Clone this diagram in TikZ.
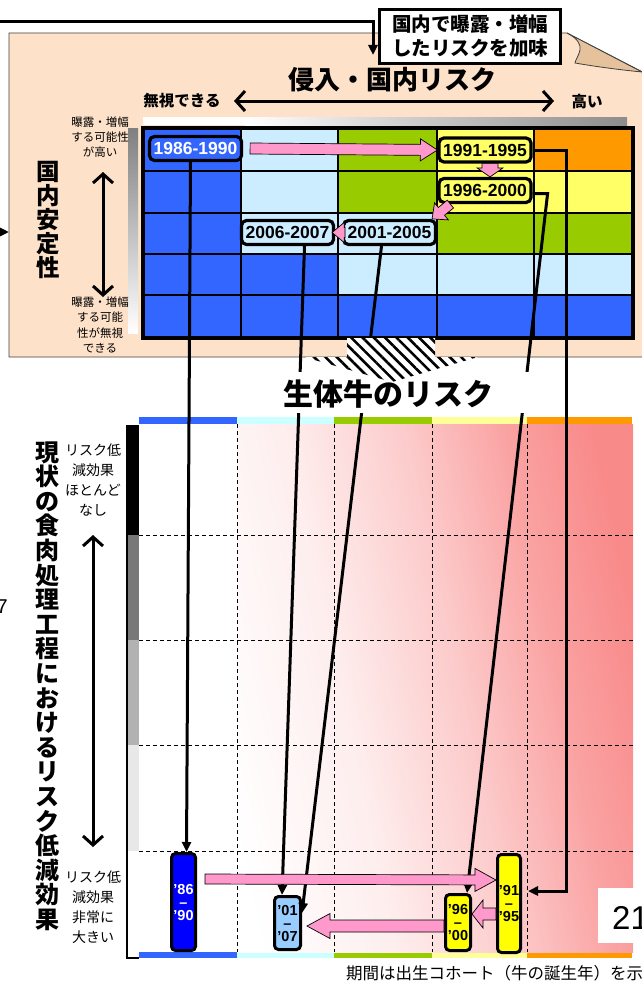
\documentclass[tikz,border=0pt]{standalone}
\usepackage{fontspec}
\setmainfont{Liberation Sans}
\newfontfamily\jp{Noto Sans CJK JP}
\usetikzlibrary{arrows.meta,calc,patterns.meta}
\definecolor{peach}{HTML}{FDE1C9}
\definecolor{curl}{HTML}{E6C29C}
\definecolor{cB}{HTML}{3366FF}
\definecolor{cL}{HTML}{CCECFF}
\definecolor{cG}{HTML}{99CC00}
\definecolor{cY}{HTML}{FFFF66}
\definecolor{cO}{HTML}{FF9900}
\definecolor{cC}{HTML}{CCFFFF}
\definecolor{cLY}{HTML}{FFFF99}
\definecolor{pk}{HTML}{FF99CC}
\definecolor{rosy}{HTML}{F98A8A}
\definecolor{bB}{HTML}{0000FF}
\definecolor{bL}{HTML}{99CCFF}
\definecolor{bY}{HTML}{FFFF00}
\newcommand\fs[2]{\fontsize{#1}{#2}\selectfont}
\pgfdeclarehorizontalshading{rosyh}{100bp}{color(0bp)=(white); color(23bp)=(white); color(39bp)=(rosy!15); color(53bp)=(rosy!45); color(65bp)=(rosy!80); color(75bp)=(rosy); color(100bp)=(rosy)}
\newcommand\fatarrow[5]{%
  \coordinate (fa-s) at (#1);
  \coordinate (fa-e) at (#2);
  \coordinate (fa-h) at ($(fa-e)!#5!(fa-s)$);
  \filldraw[fill=pk,draw=black,line width=0.7pt,line join=miter]
    ($(fa-s)!#3!90:(fa-e)$) -- ($(fa-h)!#3!90:(fa-e)$) -- ($(fa-h)!#4!90:(fa-e)$) -- (fa-e)
    -- ($(fa-h)!#4!-90:(fa-e)$) -- ($(fa-h)!#3!-90:(fa-e)$) -- ($(fa-s)!#3!-90:(fa-e)$) -- cycle;}
\begin{document}
\begin{tikzpicture}[x=1pt,y=-1pt,
  conn/.style={line width=3pt},
  arrowend/.style={-{Triangle[length=10pt,width=9pt]}},
  chev/.style={{Straight Barb[length=9pt,width=20pt,line width=3pt]}-{Straight Barb[length=9pt,width=20pt,line width=3pt]},line width=3pt},
  yrbox/.style={draw,line width=3.2pt,rounded corners=5pt,minimum width=92pt,minimum height=24pt,inner sep=1pt,font=\bfseries\fs{17.5}{18}},
  cobox/.style={draw,line width=3pt,rounded corners=4pt,inner sep=0pt,align=center,font=\bfseries\fs{14.5}{13}},
  small/.style={font=\jp\fs{11.5}{15.3},align=center},
  mid/.style={font=\jp\fs{14}{20},align=center},
  dsh/.style={line width=1pt,dash pattern=on 4pt off 3pt}
]
\useasboundingbox (0,0) rectangle (642,982);
% ---------- top panel ----------
\filldraw[fill=peach,draw=black!75,line width=0.8pt] (9,33) -- (567,33) -- (662,82) -- (662,357) -- (9,357) -- cycle;
\filldraw[fill=curl,draw=black!75,line width=0.8pt] (567,33) -- (642,72) .. controls (622,70) and (598,67) .. (575,63) .. controls (576,56) and (590,45) .. (567,33) -- cycle;
\coordinate (tl0) at (-2,22); \coordinate (tl1) at (373,55);
\draw[conn,arrowend] (tl0) -| (tl1);
\coordinate (la0) at (-2,232); \coordinate (la1) at (9,232);
\draw[conn,arrowend] (la0) -- (la1);
\node[draw,fill=white,line width=3pt,minimum width=181pt,minimum height=54pt,inner sep=2pt,align=left,font=\jp\bfseries\fs{19.5}{24}] (callout) at (470,36.5) {国内で曝露・増幅\\したリスクを加味};
\node[font=\jp\bfseries\fs{26}{26}] (title) at (392,80) {侵入・国内リスク};
\node[font=\jp\bfseries\fs{15.5}{16}] (lo) at (182,101) {無視できる};
\node[font=\jp\bfseries\fs{15.5}{16}] (hi) at (587,102) {高い};
\coordinate (ax1) at (234,101); \coordinate (ax2) at (554,101);
\draw[chev] (ax1) -- (ax2);
% strips
\fill[white] (143,117) rectangle (245,125);
\shade[left color=white,right color=black!45] (245,117) rectangle (627,125);
\shade[top color=black!50,bottom color=white] (128,128) rectangle (138,333);
% grid
\foreach \ya/\yb/\ka/\kb/\kc/\kd/\ke in {128/171/cB/cL/cG/cY/cO,171/213/cB/cL/cG/cY/cY,213/254/cB/cL/cL/cG/cG,254/295/cB/cB/cL/cL/cL,295/338/cB/cB/cB/cB/cB}{
  \fill[\ka] (143,\ya) rectangle (241,\yb);
  \fill[\kb] (241,\ya) rectangle (338,\yb);
  \fill[\kc] (338,\ya) rectangle (437,\yb);
  \fill[\kd] (437,\ya) rectangle (534,\yb);
  \fill[\ke] (534,\ya) rectangle (633,\yb);
}
\foreach \gx in {241,338,437,534} \draw[line width=1.5pt] (\gx,128) -- (\gx,338);
\foreach \gy in {171,213,254,295} \draw[line width=1.5pt] (143,\gy) -- (633,\gy);
\draw[line width=3.5pt] (143,128) rectangle (633,338);
% side labels
\node[font=\jp\bfseries\fs{23.5}{24},align=center] (kokunai) at (48,220) {国\\内\\安\\定\\性};
\node[small] (hiexp) at (100,137) {曝露・増幅\\する可能性\\が高い};
\node[small] (loexp) at (100,325) {曝露・増幅\\する可能\\性が無視\\できる};
\coordinate (va1) at (103,172); \coordinate (va2) at (103,297);
\draw[chev] (va1) -- (va2);
% ---------- bottom panel ----------
\fill[cB] (139,417) rectangle (237,424); \fill[cC] (237,417) rectangle (334,424);
\fill[cG] (334,417) rectangle (432,424); \fill[cLY] (432,417) rectangle (527,424);
\fill[cO] (527,417) rectangle (632,424);
\fill[cB] (139,952) rectangle (237,958); \fill[cC] (237,952) rectangle (334,958);
\fill[cG] (334,952) rectangle (432,958); \fill[cLY] (432,952) rectangle (527,958);
\fill[cO] (527,952) rectangle (632,958);
\shade[shading=rosyh,shading angle=12] (237,424) rectangle (633,952);
\foreach \gy in {535,640,745,851} \draw[dsh] (139,\gy) -- (633,\gy);
\foreach \gx in {237,334,432,527} \draw[dsh] (\gx,424) -- (\gx,952);
\fill[black] (127,425) rectangle (139,535);
\fill[black!53] (127,535) rectangle (139,640);
\fill[black!30] (127,640) rectangle (139,745);
\fill[black!9] (127,745) rectangle (139,851);
\draw[line width=1.5pt] (127,425) -- (127,958) -- (139,958);
\node[font=\jp\bfseries\fs{24}{24.6},align=center] (vlabel) at (47,686) {現\\状\\の\\食\\肉\\処\\理\\工\\程\\に\\お\\け\\る\\リ\\ス\\ク\\低\\減\\効\\果};
\node[mid] (lowfx) at (93,480) {リスク低\\減効果\\ほとんど\\なし};
\node[mid] (highfx) at (93,907) {リスク低\\減効果\\非常に\\大きい};
\coordinate (vb1) at (93,535); \coordinate (vb2) at (93,847);
\draw[chev] (vb1) -- (vb2);
% ---------- year boxes ----------
\node[yrbox,fill=cB,text=white] (n8690) at (195.5,148.5) {1986-1990};
\node[yrbox,fill=cY] (n9195) at (485,150) {1991-1995};
\node[yrbox,fill=cY] (n9600) at (485,190.5) {1996-2000};
\node[yrbox,fill=cL] (n0105) at (389.5,232.5) {2001-2005};
\node[yrbox,fill=cL] (n0607) at (287.5,232.5) {2006-2007};
\node[cobox,fill=bB,text=white,minimum width=24pt,minimum height=97pt] (b8690) at (183.5,902) {'86\\–\\'90};
\node[cobox,fill=bL,minimum width=26pt,minimum height=53pt] (b0107) at (287.5,923) {'01\\–\\'07};
\node[cobox,fill=bY,minimum width=25pt,minimum height=56pt] (b9600) at (458,922.5) {'96\\–\\'00};
\node[cobox,fill=bY,minimum width=23pt,minimum height=98pt] (b9195) at (509,903.5) {'91\\–\\'95};
% ---------- connectors ----------
\draw[conn,arrowend] ([xshift=-5pt]n8690.south) -- ([xshift=3pt]b8690.north);
\draw[conn,arrowend] ([xshift=17pt]n0607.south) -- ([xshift=-5.5pt]b0107.north);
\draw[conn,arrowend] ([xshift=-8pt]n0105.south) -- ([yshift=10pt]b0107.east);
\draw[conn,arrowend] ([yshift=-3pt]n9600.east) -- ++(15,0) -- ([xshift=-5pt]b9600.north east);
\draw[conn,arrowend] (n9195.east) -- ++(34,0) |- ([xshift=6pt,yshift=12.5pt]b9195.east);
% ---------- live cattle ----------
\node[fill=white,minimum width=300pt,minimum height=41pt,inner sep=0pt] (livebg) at (388,392.5) {};
\path[fill=white] (347,338) -- (435,338) -- (435,357) -- (478,357) -- (392,382) -- (304,357) -- (347,357) -- cycle;
\path[pattern={Lines[angle=-45,distance=8pt,line width=2.6pt]},pattern color=black] (347,338) -- (435,338) -- (435,357) -- (478,357) -- (392,382) -- (304,357) -- (347,357) -- cycle;
\node[font=\jp\bfseries\fs{30}{30}] (live) at (388,394) {生体牛のリスク};
% ---------- pink arrows ----------
\fatarrow{[xshift=7pt]n8690.east}{n9195.west}{5.5pt}{11pt}{17pt}
\fatarrow{[xshift=5pt]n9195.south}{[xshift=5pt]n9600.north}{8pt}{13pt}{9pt}
\fatarrow{[xshift=13pt]n9600.south west}{[xshift=-5pt]n0105.north east}{5pt}{11pt}{12pt}
\fatarrow{[xshift=3pt]n0105.west}{[xshift=-3pt]n0607.east}{5pt}{10pt}{12pt}
\fatarrow{[xshift=8pt,yshift=23pt]b8690.east}{[yshift=23.5pt]b9195.west}{5pt}{11.5pt}{21pt}
\fatarrow{[yshift=-10.5pt]b9195.west}{[yshift=8.5pt]b9600.east}{6pt}{14pt}{11pt}
\fatarrow{[yshift=-3.5pt]b9600.west}{[xshift=5pt,yshift=-3pt]b0107.east}{6pt}{12.5pt}{23pt}
% ---------- misc ----------
\fill[white] (598,888) rectangle (650,943);
\node[font=\fs{33}{33},anchor=west,inner sep=0pt] (pg) at (612,918) {21};
\node[font=\fs{20}{20},anchor=east,inner sep=0pt] (seven) at (8,607) {7};
\node[font=\jp\fs{16.5}{16.5},anchor=west,inner sep=0pt] (note) at (346,973) {期間は出生コホート（牛の誕生年）を示};
\end{tikzpicture}
\end{document}
